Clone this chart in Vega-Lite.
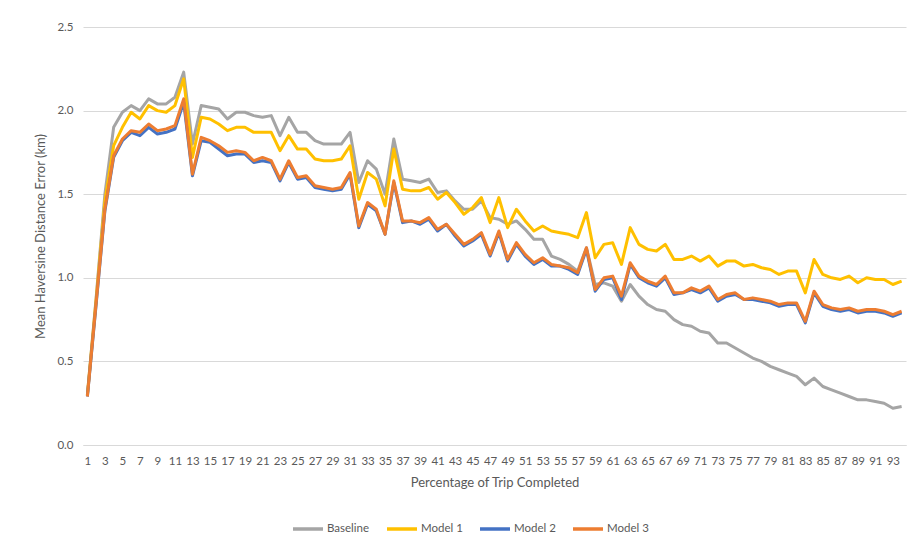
{
  "$schema": "https://vega.github.io/schema/vega-lite/v6.json",
  "width": 823,
  "height": 418,
  "autosize": {"type": "none"},
  "padding": {"left": 83, "top": 27, "right": 15, "bottom": 105},
  "background": "white",
  "config": {"view": {"stroke": null}, "font": "Lato"},
  "data": {"values": [
    {"p":1,"Baseline":0.30,"Model 1":0.30,"Model 2":0.29,"Model 3":0.29},
    {"p":2,"Baseline":0.88,"Model 1":0.87,"Model 2":0.84,"Model 3":0.85},
    {"p":3,"Baseline":1.50,"Model 1":1.46,"Model 2":1.40,"Model 3":1.41},
    {"p":4,"Baseline":1.90,"Model 1":1.79,"Model 2":1.72,"Model 3":1.73},
    {"p":5,"Baseline":1.99,"Model 1":1.90,"Model 2":1.82,"Model 3":1.83},
    {"p":6,"Baseline":2.03,"Model 1":1.99,"Model 2":1.87,"Model 3":1.88},
    {"p":7,"Baseline":2.00,"Model 1":1.95,"Model 2":1.85,"Model 3":1.87},
    {"p":8,"Baseline":2.07,"Model 1":2.03,"Model 2":1.90,"Model 3":1.92},
    {"p":9,"Baseline":2.04,"Model 1":2.00,"Model 2":1.86,"Model 3":1.88},
    {"p":10,"Baseline":2.04,"Model 1":1.99,"Model 2":1.87,"Model 3":1.89},
    {"p":11,"Baseline":2.08,"Model 1":2.03,"Model 2":1.89,"Model 3":1.91},
    {"p":12,"Baseline":2.23,"Model 1":2.19,"Model 2":2.05,"Model 3":2.07},
    {"p":13,"Baseline":1.80,"Model 1":1.72,"Model 2":1.61,"Model 3":1.62},
    {"p":14,"Baseline":2.03,"Model 1":1.96,"Model 2":1.82,"Model 3":1.84},
    {"p":15,"Baseline":2.02,"Model 1":1.95,"Model 2":1.81,"Model 3":1.82},
    {"p":16,"Baseline":2.01,"Model 1":1.92,"Model 2":1.77,"Model 3":1.79},
    {"p":17,"Baseline":1.95,"Model 1":1.88,"Model 2":1.73,"Model 3":1.75},
    {"p":18,"Baseline":1.99,"Model 1":1.90,"Model 2":1.74,"Model 3":1.76},
    {"p":19,"Baseline":1.99,"Model 1":1.90,"Model 2":1.74,"Model 3":1.75},
    {"p":20,"Baseline":1.97,"Model 1":1.87,"Model 2":1.69,"Model 3":1.70},
    {"p":21,"Baseline":1.96,"Model 1":1.87,"Model 2":1.70,"Model 3":1.72},
    {"p":22,"Baseline":1.97,"Model 1":1.87,"Model 2":1.69,"Model 3":1.70},
    {"p":23,"Baseline":1.85,"Model 1":1.76,"Model 2":1.58,"Model 3":1.59},
    {"p":24,"Baseline":1.96,"Model 1":1.85,"Model 2":1.69,"Model 3":1.70},
    {"p":25,"Baseline":1.87,"Model 1":1.77,"Model 2":1.59,"Model 3":1.60},
    {"p":26,"Baseline":1.87,"Model 1":1.77,"Model 2":1.60,"Model 3":1.61},
    {"p":27,"Baseline":1.82,"Model 1":1.71,"Model 2":1.54,"Model 3":1.55},
    {"p":28,"Baseline":1.80,"Model 1":1.70,"Model 2":1.53,"Model 3":1.54},
    {"p":29,"Baseline":1.80,"Model 1":1.70,"Model 2":1.52,"Model 3":1.53},
    {"p":30,"Baseline":1.80,"Model 1":1.71,"Model 2":1.53,"Model 3":1.54},
    {"p":31,"Baseline":1.87,"Model 1":1.79,"Model 2":1.62,"Model 3":1.63},
    {"p":32,"Baseline":1.57,"Model 1":1.47,"Model 2":1.30,"Model 3":1.31},
    {"p":33,"Baseline":1.70,"Model 1":1.63,"Model 2":1.44,"Model 3":1.45},
    {"p":34,"Baseline":1.65,"Model 1":1.59,"Model 2":1.40,"Model 3":1.41},
    {"p":35,"Baseline":1.50,"Model 1":1.43,"Model 2":1.26,"Model 3":1.26},
    {"p":36,"Baseline":1.83,"Model 1":1.77,"Model 2":1.57,"Model 3":1.58},
    {"p":37,"Baseline":1.59,"Model 1":1.53,"Model 2":1.33,"Model 3":1.34},
    {"p":38,"Baseline":1.58,"Model 1":1.52,"Model 2":1.34,"Model 3":1.34},
    {"p":39,"Baseline":1.57,"Model 1":1.52,"Model 2":1.32,"Model 3":1.33},
    {"p":40,"Baseline":1.59,"Model 1":1.54,"Model 2":1.35,"Model 3":1.36},
    {"p":41,"Baseline":1.51,"Model 1":1.47,"Model 2":1.28,"Model 3":1.29},
    {"p":42,"Baseline":1.52,"Model 1":1.51,"Model 2":1.32,"Model 3":1.32},
    {"p":43,"Baseline":1.46,"Model 1":1.45,"Model 2":1.25,"Model 3":1.26},
    {"p":44,"Baseline":1.41,"Model 1":1.38,"Model 2":1.19,"Model 3":1.20},
    {"p":45,"Baseline":1.41,"Model 1":1.42,"Model 2":1.22,"Model 3":1.23},
    {"p":46,"Baseline":1.46,"Model 1":1.48,"Model 2":1.26,"Model 3":1.27},
    {"p":47,"Baseline":1.36,"Model 1":1.33,"Model 2":1.13,"Model 3":1.14},
    {"p":48,"Baseline":1.35,"Model 1":1.48,"Model 2":1.27,"Model 3":1.28},
    {"p":49,"Baseline":1.32,"Model 1":1.30,"Model 2":1.10,"Model 3":1.11},
    {"p":50,"Baseline":1.34,"Model 1":1.41,"Model 2":1.20,"Model 3":1.21},
    {"p":51,"Baseline":1.29,"Model 1":1.34,"Model 2":1.13,"Model 3":1.14},
    {"p":52,"Baseline":1.23,"Model 1":1.28,"Model 2":1.08,"Model 3":1.09},
    {"p":53,"Baseline":1.23,"Model 1":1.31,"Model 2":1.11,"Model 3":1.12},
    {"p":54,"Baseline":1.13,"Model 1":1.28,"Model 2":1.07,"Model 3":1.08},
    {"p":55,"Baseline":1.11,"Model 1":1.27,"Model 2":1.07,"Model 3":1.07},
    {"p":56,"Baseline":1.08,"Model 1":1.26,"Model 2":1.05,"Model 3":1.06},
    {"p":57,"Baseline":1.04,"Model 1":1.24,"Model 2":1.02,"Model 3":1.03},
    {"p":58,"Baseline":1.18,"Model 1":1.39,"Model 2":1.17,"Model 3":1.18},
    {"p":59,"Baseline":0.96,"Model 1":1.12,"Model 2":0.92,"Model 3":0.93},
    {"p":60,"Baseline":0.97,"Model 1":1.20,"Model 2":0.99,"Model 3":1.00},
    {"p":61,"Baseline":0.95,"Model 1":1.21,"Model 2":1.00,"Model 3":1.01},
    {"p":62,"Baseline":0.86,"Model 1":1.08,"Model 2":0.87,"Model 3":0.89},
    {"p":63,"Baseline":0.96,"Model 1":1.30,"Model 2":1.08,"Model 3":1.09},
    {"p":64,"Baseline":0.89,"Model 1":1.20,"Model 2":1.00,"Model 3":1.01},
    {"p":65,"Baseline":0.84,"Model 1":1.17,"Model 2":0.97,"Model 3":0.98},
    {"p":66,"Baseline":0.81,"Model 1":1.16,"Model 2":0.95,"Model 3":0.96},
    {"p":67,"Baseline":0.80,"Model 1":1.20,"Model 2":1.00,"Model 3":1.01},
    {"p":68,"Baseline":0.75,"Model 1":1.11,"Model 2":0.90,"Model 3":0.91},
    {"p":69,"Baseline":0.72,"Model 1":1.11,"Model 2":0.91,"Model 3":0.91},
    {"p":70,"Baseline":0.71,"Model 1":1.13,"Model 2":0.93,"Model 3":0.94},
    {"p":71,"Baseline":0.68,"Model 1":1.10,"Model 2":0.91,"Model 3":0.92},
    {"p":72,"Baseline":0.67,"Model 1":1.13,"Model 2":0.94,"Model 3":0.95},
    {"p":73,"Baseline":0.61,"Model 1":1.07,"Model 2":0.86,"Model 3":0.87},
    {"p":74,"Baseline":0.61,"Model 1":1.10,"Model 2":0.89,"Model 3":0.90},
    {"p":75,"Baseline":0.58,"Model 1":1.10,"Model 2":0.90,"Model 3":0.91},
    {"p":76,"Baseline":0.55,"Model 1":1.07,"Model 2":0.87,"Model 3":0.87},
    {"p":77,"Baseline":0.52,"Model 1":1.08,"Model 2":0.87,"Model 3":0.88},
    {"p":78,"Baseline":0.50,"Model 1":1.06,"Model 2":0.86,"Model 3":0.87},
    {"p":79,"Baseline":0.47,"Model 1":1.05,"Model 2":0.85,"Model 3":0.86},
    {"p":80,"Baseline":0.45,"Model 1":1.02,"Model 2":0.83,"Model 3":0.84},
    {"p":81,"Baseline":0.43,"Model 1":1.04,"Model 2":0.84,"Model 3":0.85},
    {"p":82,"Baseline":0.41,"Model 1":1.04,"Model 2":0.84,"Model 3":0.85},
    {"p":83,"Baseline":0.36,"Model 1":0.91,"Model 2":0.73,"Model 3":0.74},
    {"p":84,"Baseline":0.40,"Model 1":1.11,"Model 2":0.91,"Model 3":0.92},
    {"p":85,"Baseline":0.35,"Model 1":1.02,"Model 2":0.83,"Model 3":0.84},
    {"p":86,"Baseline":0.33,"Model 1":1.00,"Model 2":0.81,"Model 3":0.82},
    {"p":87,"Baseline":0.31,"Model 1":0.99,"Model 2":0.80,"Model 3":0.81},
    {"p":88,"Baseline":0.29,"Model 1":1.01,"Model 2":0.81,"Model 3":0.82},
    {"p":89,"Baseline":0.27,"Model 1":0.97,"Model 2":0.79,"Model 3":0.80},
    {"p":90,"Baseline":0.27,"Model 1":1.00,"Model 2":0.80,"Model 3":0.81},
    {"p":91,"Baseline":0.26,"Model 1":0.99,"Model 2":0.80,"Model 3":0.81},
    {"p":92,"Baseline":0.25,"Model 1":0.99,"Model 2":0.79,"Model 3":0.80},
    {"p":93,"Baseline":0.22,"Model 1":0.96,"Model 2":0.77,"Model 3":0.78},
    {"p":94,"Baseline":0.23,"Model 1":0.98,"Model 2":0.79,"Model 3":0.80}
  ]},
  "transform": [
    {"fold": ["Baseline", "Model 1", "Model 2", "Model 3"], "as": ["series", "value"]}
  ],
  "mark": {"type": "line", "strokeWidth": 3, "strokeJoin": "round"},
  "encoding": {
    "x": {
      "field": "p",
      "type": "ordinal",
      "sort": "ascending",
      "scale": {"type": "point", "padding": 0.5},
      "axis": {
        "title": "Percentage of Trip Completed",
        "titleFont": "Lato",
        "titleFontSize": 13,
        "titleFontWeight": "normal",
        "titleColor": "#595959",
        "titlePadding": 10,
        "labelExpr": "datum.value % 2 == 1 ? datum.label : ''",
        "labelAngle": 0,
        "labelFontSize": 11.5,
        "labelColor": "#595959",
        "labelPadding": 10,
        "labelOverlap": false,
        "ticks": false,
        "domainColor": "#d9d9d9",
        "grid": false
      }
    },
    "y": {
      "field": "value",
      "type": "quantitative",
      "scale": {"domain": [0, 2.5], "nice": false},
      "axis": {
        "title": "Mean Haversine Distance Error (km)",
        "titleFont": "Lato",
        "titleFontSize": 13,
        "titleFontWeight": "normal",
        "titleColor": "#595959",
        "titlePadding": 9,
        "values": [0, 0.5, 1, 1.5, 2, 2.5],
        "format": ".1f",
        "labelFontSize": 11.5,
        "labelColor": "#595959",
        "labelPadding": 10,
        "ticks": false,
        "domain": false,
        "gridColor": "#d9d9d9",
        "gridWidth": 1
      }
    },
    "color": {
      "field": "series",
      "type": "nominal",
      "scale": {
        "domain": ["Baseline", "Model 1", "Model 2", "Model 3"],
        "range": ["#a5a5a5", "#ffc000", "#4472c4", "#ed7d31"]
      },
      "legend": {
        "title": null,
        "orient": "none",
        "direction": "horizontal",
        "legendX": 208,
        "legendY": 485,
        "symbolType": "stroke",
        "symbolSize": 900,
        "symbolStrokeWidth": 3.5,
        "labelFontSize": 11.5,
        "labelColor": "#595959",
        "labelOffset": 2,
        "columnPadding": 10
      }
    }
  }
}
